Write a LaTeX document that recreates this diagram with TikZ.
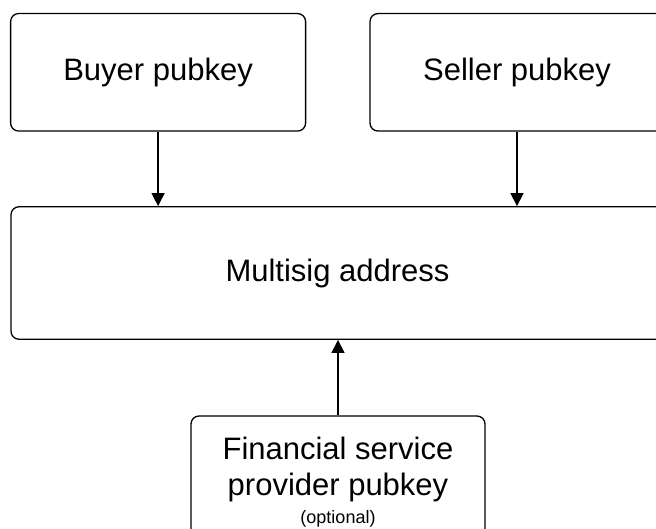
\documentclass[tikz,border=0pt]{standalone}
\usepackage{fontspec}
\setmainfont{Liberation Sans}
\usetikzlibrary{arrows.meta}
\tikzset{
  keybox/.style={draw, line width=1.3pt, rounded corners=8pt, fill=white,
    inner sep=0pt, align=center, font=\fontsize{31}{36}\selectfont},
  arr/.style={line width=1.3pt, -{Triangle[width=13pt,length=13pt]}}
}
\begin{document}
\begin{tikzpicture}[x=1pt,y=-1pt]
  \useasboundingbox (0,0) rectangle (656,528);
  \clip (0,0) rectangle (656,528);
  \fill[white] (0,0) rectangle (656,528);
  \node[keybox, minimum width=295pt, minimum height=117.5pt] (buyer) at (158.1,72.3) {Buyer pubkey};
  \node[keybox, minimum width=294pt, minimum height=117.5pt] (seller) at (517,72.3) {Seller pubkey};
  \node[keybox, minimum width=653pt, minimum height=132.5pt] (multisig) at (337.5,273) {Multisig address};
  \node[keybox, minimum width=294pt, minimum height=132pt] (fsp) at (338,482)
    {Financial service\\provider pubkey\\[-8pt]{\fontsize{18}{20}\selectfont (optional)}};
  \draw[arr] (buyer.south) -- (buyer.south |- multisig.north);
  \draw[arr] (seller.south) -- (seller.south |- multisig.north);
  \draw[arr] (fsp.north) -- (fsp.north |- multisig.south);
\end{tikzpicture}
\end{document}
